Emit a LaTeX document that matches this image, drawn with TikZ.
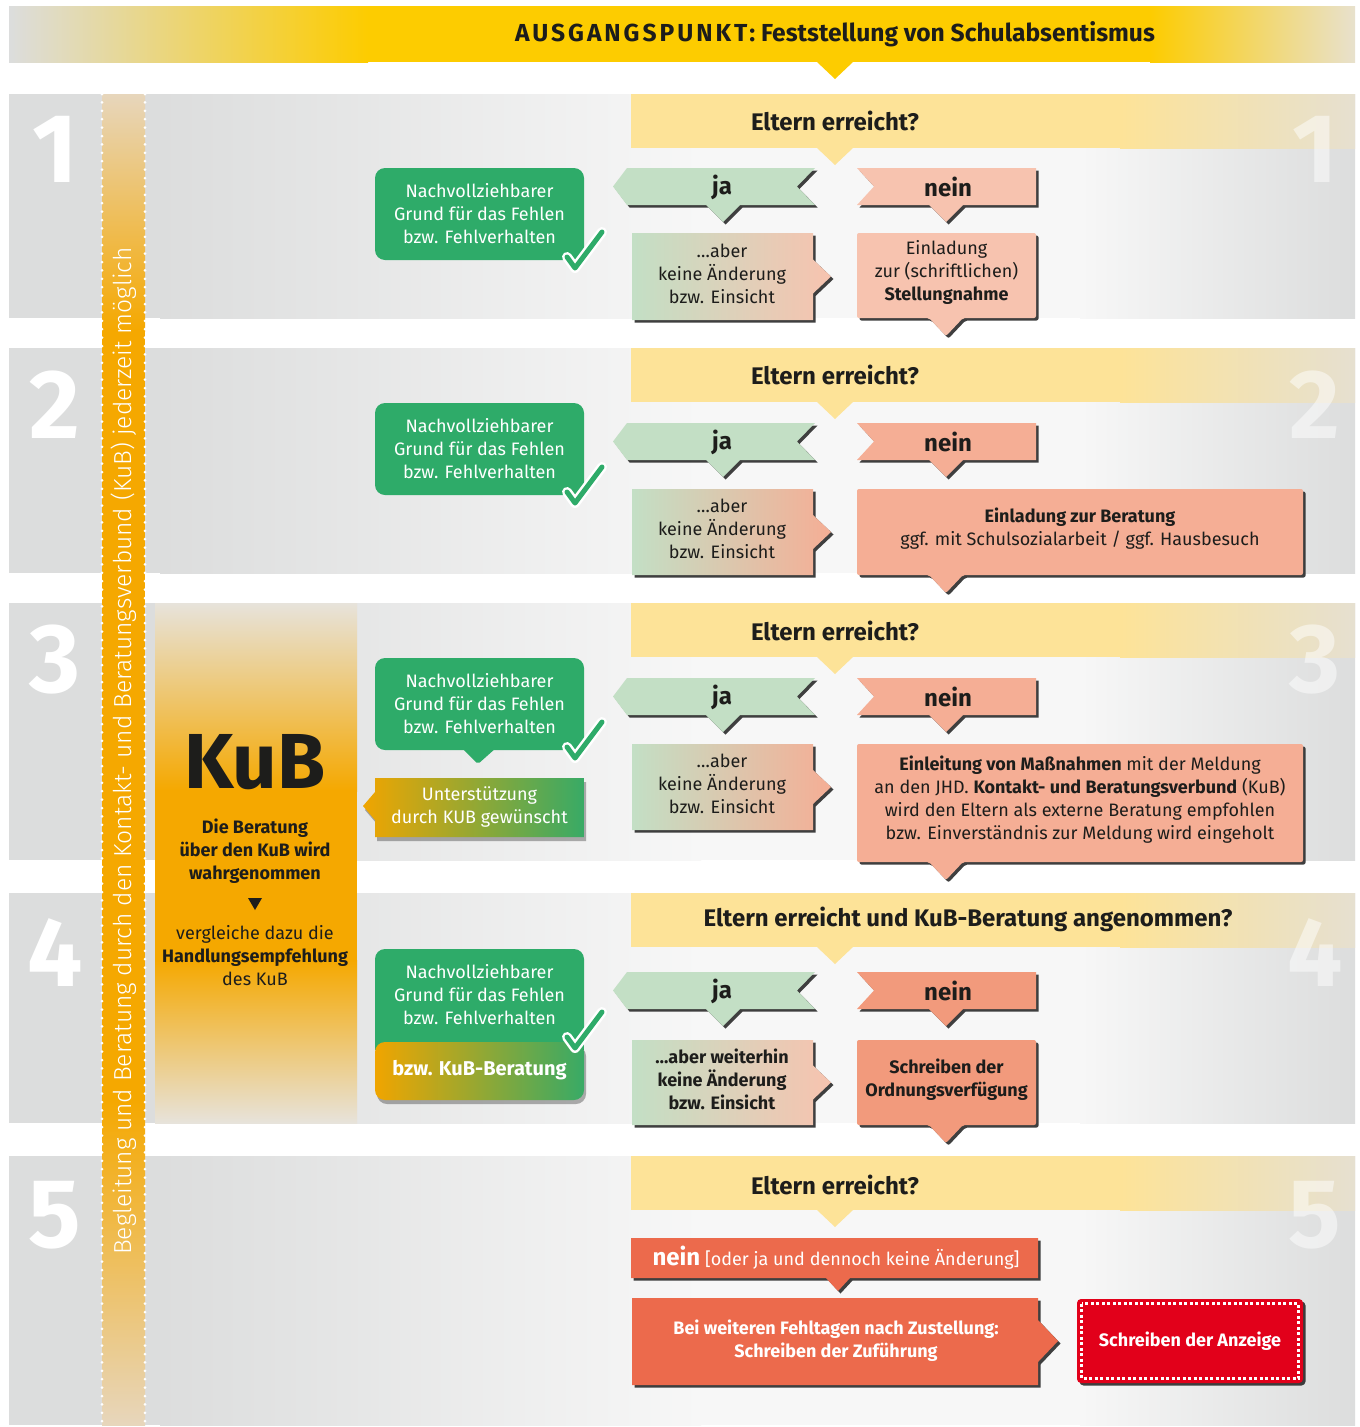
\documentclass[tikz,border=0pt]{standalone}
\usepackage{fontspec}
\setmainfont{Fira Sans}
\IfFontExistsTF{Fira Sans Light}{\newfontfamily\lightfont{Fira Sans Light}}{\newfontfamily\lightfont{Fira Sans}}
\usetikzlibrary{positioning, shadows}

\definecolor{txtdark}{HTML}{1D1D1B}
\definecolor{headyellow}{HTML}{FDCC00}
\definecolor{headfade}{HTML}{E8E1CD}
\definecolor{askyellow}{HTML}{FDE398}
\definecolor{askfade}{HTML}{E6E0D0}
\definecolor{jagreen}{HTML}{C3DFC5}
\definecolor{neinA}{HTML}{F7C3AF}
\definecolor{neinB}{HTML}{F5AE95}
\definecolor{neinC}{HTML}{F29A7C}
\definecolor{neinD}{HTML}{EC6A4C}
\definecolor{boxgreen}{HTML}{2EAB69}
\definecolor{kuborange}{HTML}{F5A800}
\definecolor{kubfade}{HTML}{E7E3DB}
\definecolor{stripfade}{HTML}{E7D6BC}
\definecolor{gradorange}{HTML}{F0A500}
\definecolor{gradgreen}{HTML}{38AA66}
\definecolor{panelgrey}{HTML}{DCDDDD}
\definecolor{panellight}{HTML}{F7F7F7}
\definecolor{anzeigered}{HTML}{E2001A}
\definecolor{shadowdark}{HTML}{2B2B2B}

\tikzset{
  bodytext/.style={align=center, text=txtdark, font=\fontsize{18}{23}\selectfont},
  whitetext/.style={bodytext, text=white},
  tagtext/.style={text=txtdark, font=\fontsize{24}{28}\selectfont\bfseries},
  bignum/.style={text=white, font=\fontsize{98}{98}\selectfont\bfseries},
  ghostnum/.style={bignum, opacity=0.5},
  tagshadow/.style={drop shadow={shadow xshift=2.5pt, shadow yshift=-2.5pt, fill=shadowdark, opacity=0.9}},
  softshadow/.style={drop shadow={shadow xshift=2pt, shadow yshift=-4pt, fill=black, opacity=0.3}},
  grundbox/.style={whitetext, fill=boxgreen, rounded corners=10pt, minimum width=209pt, minimum height=92pt, inner sep=0pt},
}

% ja-Fahne: #1 Oberkante, #2 Name
\newcommand{\jatag}[2]{%
  \fill[jagreen, tagshadow] (613,#1+18.5) -- (627,#1) -- (815,#1) -- (797,#1+18.5) -- (815,#1+37) -- (740,#1+37) -- (723,#1+54) -- (706,#1+37) -- (627,#1+37) -- cycle;
  \node[tagtext] (#2) at (722,#1+19) {ja};
}
% nein-Fahne: #1 Oberkante, #2 Farbe, #3 Name
\newcommand{\neintag}[3]{%
  \fill[#2, tagshadow] (857,#1) -- (1036,#1) -- (1036,#1+37) -- (963,#1+37) -- (946,#1+54) -- (929,#1+37) -- (857,#1+37) -- (874,#1+18.5) -- cycle;
  \node[tagtext] (#3) at (948,#1+19) {nein};
}
% aber-Kasten: #1 Oberkante, #2 Hoehe, #3 Farbe rechts, #4 Name, #5 Text
\newcommand{\aberbox}[5]{%
  \shade[left color=jagreen, right color=#3, tagshadow] (632,#1) -- (813,#1) -- (813,#1+#2/2-17) -- (831,#1+#2/2) -- (813,#1+#2/2+17) -- (813,#1+#2) -- (632,#1+#2) -- cycle;
  \node[bodytext] (#4) at (722,#1+#2/2-3) {#5};
}
% Ergebnis-Kasten: #1 Oberkante, #2 Hoehe, #3 rechter Rand, #4 Farbe, #5 Name, #6 Text
\newcommand{\resultbox}[6]{%
  \fill[#4, tagshadow, rounded corners=2pt] (857,#1) -- (#3,#1) -- (#3,#1+#2) -- (963,#1+#2) -- (946,#1+#2+18) -- (929,#1+#2) -- (857,#1+#2) -- cycle;
  \node[bodytext] (#5) at ({(857+#3)/2},#1+#2/2-3) {#6};
}
% Haken
\newcommand{\okmark}[2]{%
  \draw[white, line width=10pt, line cap=round, line join=round] (#1-8,#2-11) -- (#1,#2) -- (#1+27,#2-36);
  \draw[boxgreen, line width=5pt, line cap=round, line join=round] (#1-8,#2-11) -- (#1,#2) -- (#1+27,#2-36);
}

\begin{document}
\begin{tikzpicture}[x=1pt, y=-1pt]
  \useasboundingbox (0,0) rectangle (1360,1427);
  \fill[white] (0,0) rectangle (1360,1427);

  % --- Ausgangspunkt ---
  \shade[left color=panelgrey, right color=headyellow] (9,6) rectangle (368,62);
  \fill[headyellow] (368,6) rectangle (1150,62);
  \shade[left color=headyellow, right color=headfade] (1150,6) rectangle (1355,62);
  \fill[headyellow] (817,62) -- (853,62) -- (835,79) -- cycle;
  \node[tagtext, font=\fontsize{24.6}{28}\selectfont\bfseries] (start) at (835,34) {{\addfontfeature{LetterSpace=12}AUSGANGSPUNKT:} Feststellung von Schulabsentismus};

  % --- Stufen ---
  \foreach \t/\b in {94/318, 348/573, 603/860, 893/1123, 1156/1425} {
    \fill[panelgrey] (9,\t) rectangle (161,\b);
    \shade[left color=panelgrey, right color=panellight] (160,\t) rectangle (701,\b);
    \fill[panellight] (700,\t) rectangle (1081,\b);
    \shade[left color=panellight, right color=panelgrey] (1080,\t) rectangle (1355,\b);
    \fill[askyellow] (631,\t) rectangle (1121,\t+54);
    \shade[left color=askyellow, right color=askfade] (1120,\t) rectangle (1355,\t+54);
    \fill[askyellow] (817,\t+54) -- (853,\t+54) -- (835,\t+71) -- cycle;
  }
  \foreach \n/\y in {1/149, 2/405, 3/660, 4/953, 5/1215} {
    \node[bignum] (num\n) at (55,\y) {\n};
    \node[ghostnum] (ghost\n) at (1315,\y) {\n};
  }
  \node[tagtext] (ask1) at (835,121) {Eltern erreicht?};
  \node[tagtext] (ask2) at (835,375) {Eltern erreicht?};
  \node[tagtext] (ask3) at (835,631) {Eltern erreicht?};
  \node[tagtext] (ask4) at (968,919) {Eltern erreicht und KuB-Beratung angenommen?};
  \node[tagtext] (ask5) at (835,1185) {Eltern erreicht?};

  % Begleitung
  \shade[top color=stripfade, bottom color=kuborange] (102,94) rectangle (145,331);
  \fill[kuborange] (102,330) rectangle (145,1101);
  \shade[top color=kuborange, bottom color=stripfade] (102,1100) rectangle (145,1425);
  \foreach \x in {102,145}
    \draw[white, line width=3pt, line cap=round, dash pattern=on 0pt off 8.4pt] (\x,94) -- (\x,1425);
  \node[rotate=90, text=white, font=\lightfont\fontsize{24.6}{28}\selectfont] (beglei) at (124,751) {Begleitung und Beratung durch den Kontakt- und Beratungsverbund (KuB) jederzeit möglich};

  % KuB
  \shade[top color=kubfade, bottom color=kuborange] (155,603) rectangle (357,791);
  \fill[kuborange] (155,790) rectangle (357,961);
  \shade[top color=kuborange, bottom color=kubfade] (155,960) rectangle (357,1123);
  \node[text=txtdark, font=\fontsize{78}{78}\selectfont\bfseries] (kub) at (255,762) {KuB};
  \node[bodytext] (kubtext) at (255,851) {\textbf{Die Beratung}\\\textbf{über den KuB wird}\\\textbf{wahrgenommen}};
  \fill[txtdark] (248,898) -- (262,898) -- (255,910) -- cycle;
  \node[bodytext] (kubsee) at (255,956) {vergleiche dazu die\\\textbf{Handlungsempfehlung}\\des KuB};

  % --- Stufe 1 ---
  \node[grundbox] (grund1) at (479.5,214) {Nachvollziehbarer\\Grund für das Fehlen\\bzw. Fehlverhalten};
  \okmark{575}{268}
  \jatag{168}{ja1}
  \neintag{168}{neinA}{nein1}
  \aberbox{233}{87}{neinA}{aber1}{…aber\\keine Änderung\\bzw. Einsicht}
  \resultbox{233}{85}{1036}{neinA}{einl1}{Einladung\\zur (schriftlichen)\\\textbf{Stellungnahme}}

  % --- Stufe 2 ---
  \node[grundbox] (grund2) at (479.5,449) {Nachvollziehbarer\\Grund für das Fehlen\\bzw. Fehlverhalten};
  \okmark{575}{503}
  \jatag{423}{ja2}
  \neintag{423}{neinB}{nein2}
  \aberbox{489}{86}{neinB}{aber2}{…aber\\keine Änderung\\bzw. Einsicht}
  \resultbox{489}{86}{1303}{neinB}{einl2}{\textbf{Einladung zur Beratung}\\ggf. mit Schulsozialarbeit / ggf. Hausbesuch}

  % --- Stufe 3 ---
  \fill[boxgreen, rounded corners=2pt] (462,748) -- (496,748) -- (478,764) -- cycle;
  \node[grundbox] (grund3) at (479.5,704) {Nachvollziehbarer\\Grund für das Fehlen\\bzw. Fehlverhalten};
  \okmark{575}{758}
  \shade[left color=gradorange, right color=gradgreen, softshadow] (375,778) -- (584,778) -- (584,837) -- (375,837) -- (375,820) -- (363,806) -- (375,792) -- cycle;
  \node[whitetext] (unterst) at (479.5,807) {Unterstützung\\durch KUB gewünscht};
  \jatag{678}{ja3}
  \neintag{678}{neinB}{nein3}
  \aberbox{744}{86}{neinB}{aber3}{…aber\\keine Änderung\\bzw. Einsicht}
  \resultbox{744}{118}{1303}{neinB}{mass3}{\textbf{Einleitung von Maßnahmen} mit der Meldung\\an den JHD. \textbf{Kontakt- und Beratungsverbund} (KuB)\\wird den Eltern als externe Beratung empfohlen\\bzw. Einverständnis zur Meldung wird eingeholt}

  % --- Stufe 4 ---
  \fill[boxgreen] (375,1020) rectangle (584,1050);
  \node[grundbox] (grund4) at (479.5,995) {Nachvollziehbarer\\Grund für das Fehlen\\bzw. Fehlverhalten};
  \shade[left color=gradorange, right color=gradgreen, rounded corners=10pt, softshadow] (375,1042) rectangle (584,1100);
  \node[whitetext, font=\fontsize{20}{24}\selectfont\bfseries] (kubber) at (479.5,1070) {bzw. KuB-Beratung};
  \okmark{575}{1048}
  \jatag{972}{ja4}
  \neintag{972}{neinC}{nein4}
  \aberbox{1040}{85}{neinA}{aber4}{\textbf{…aber weiterhin}\\\textbf{keine Änderung}\\\textbf{bzw. Einsicht}}
  \resultbox{1040}{85}{1036}{neinC}{ordn4}{\textbf{Schreiben der}\\\textbf{Ordnungsverfügung}}

  % --- Stufe 5 ---
  \fill[neinD, tagshadow] (631,1238) -- (1038,1238) -- (1038,1278) -- (850,1278) -- (838,1291) -- (826,1278) -- (631,1278) -- cycle;
  \node[text=white, font=\fontsize{18}{20}\selectfont] (nein5) at (836,1258) {{\fontsize{24}{28}\selectfont\bfseries nein} [oder ja und dennoch keine Änderung]};
  \fill[neinD, tagshadow] (632,1298) -- (1038,1298) -- (1038,1320) -- (1058,1341) -- (1038,1362) -- (1038,1385) -- (632,1385) -- cycle;
  \node[whitetext, font=\fontsize{18}{23}\selectfont\bfseries] (zufuehr) at (836,1341) {Bei weiteren Fehltagen nach Zustellung:\\Schreiben der Zuführung};
  \fill[anzeigered, rounded corners=4pt, tagshadow] (1077,1299) rectangle (1303,1383);
  \draw[white, line width=3pt, dash pattern=on 3pt off 2.5pt] (1081.5,1303.5) rectangle (1298.5,1378.5);
  \node[text=white, font=\fontsize{18}{23}\selectfont\bfseries] (anzeige) at (1190,1341) {Schreiben der Anzeige};
\end{tikzpicture}
\end{document}
